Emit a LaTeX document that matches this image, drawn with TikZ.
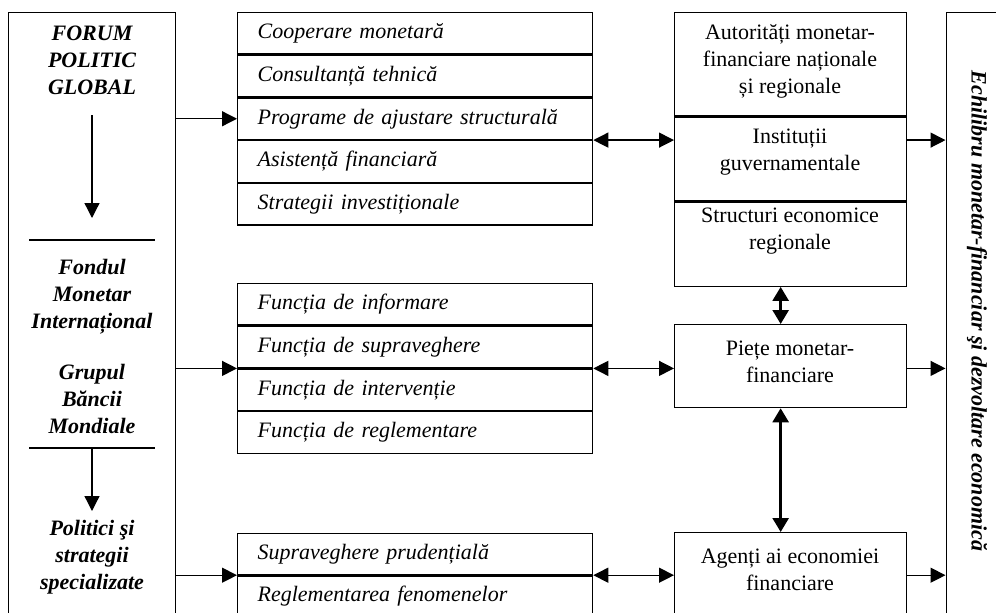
\documentclass[tikz,border=0pt]{standalone}
\usepackage{fontspec}
\setmainfont{Liberation Serif}
\usetikzlibrary{arrows.meta,calc}
\tikzset{
  ln/.style={line width=1.3pt},
  tipa/.style={ln,-{Triangle[length=15pt,width=15pt]}},
  dtipa/.style={ln,{Triangle[length=15pt,width=15pt]}-{Triangle[length=15pt,width=15pt]}},
  thickd/.style={line width=2.6pt,{Triangle[length=14pt,width=16pt]}-{Triangle[length=14pt,width=16pt]}},
  rowbox/.style={draw, ln, anchor=north west, minimum width=355pt, minimum height=41.4pt,
    text width=315pt, inner xsep=20pt, inner ysep=0pt, align=left,
    font=\fontsize{22}{27}\selectfont\itshape},
  frame/.style={draw, ln, anchor=north west, inner sep=0pt},
  rtxt/.style={align=center, inner sep=0pt, font=\fontsize{22}{27}\selectfont},
  ltxt/.style={align=center, inner sep=0pt, font=\fontsize{22}{27}\selectfont\bfseries\itshape},
}
\begin{document}
\begin{tikzpicture}[x=1pt,y=-1pt]
\useasboundingbox (0,0) rectangle (996,613);
\clip (0,0) rectangle (996,613);
% left box
\node[frame, minimum width=167pt, minimum height=640pt] (L) at (8,12) {};
\node[ltxt] (fpg) at (92,60) {FORUM\\POLITIC\\GLOBAL};
\node[ltxt] (fmi) at (92,297) {Fondul\\Monetar\\Internațional};
\node[ltxt] (gbm) at (92,399) {Grupul\\Băncii\\Mondiale};
\node[ltxt] (pss) at (92,557) {Politici şi\\strategii\\specializate};
\coordinate (v1a) at (92,115); \coordinate (v1b) at (92,218);
\coordinate (h1a) at (29,240); \coordinate (h1b) at (155,240);
\coordinate (h2a) at (29,448); \coordinate (h2b) at (155,448);
\coordinate (v2b) at (92,511);
\draw[tipa] (v1a) -- (v1b);
\draw[ln] (h1a) -- (h1b);
\draw[ln] (h2a) -- (h2b);
\draw[tipa] (h2a -| v2b) -- (v2b);
% list 1
\node[rowbox] (a1) at (237,12) {Cooperare monetară};
\node[rowbox] (a2) at (a1.south west) {Consultanță tehnică};
\node[rowbox] (a3) at (a2.south west) {Programe de ajustare structurală};
\node[rowbox] (a4) at (a3.south west) {Asistență financiară};
\node[rowbox] (a5) at (a4.south west) {Strategii investiționale};
% list 2
\node[rowbox] (b1) at (237,283) {Funcția de informare};
\node[rowbox] (b2) at (b1.south west) {Funcția de supraveghere};
\node[rowbox] (b3) at (b2.south west) {Funcția de intervenție};
\node[rowbox] (b4) at (b3.south west) {Funcția de reglementare};
% list 3
\node[rowbox] (c1) at (237,532.5) {Supraveghere prudențială};
\node[rowbox] (c2) at (c1.south west) {Reglementarea fenomenelor};
% right column
\node[frame, minimum width=232pt, minimum height=103pt] (au) at (674,12) {};
\node[frame, minimum width=232pt, minimum height=84pt] (ig) at (au.south west) {};
\node[frame, minimum width=232pt, minimum height=84pt] (se) at (ig.south west) {};
\node[frame, minimum width=232pt, minimum height=83pt] (pm) at (674,324) {};
\node[frame, minimum width=232pt, minimum height=84pt] (ag) at (674,532) {};
\node[rtxt] (au-t) at (790,61) {Autorități monetar-\\financiare naționale\\și regionale};
\node[rtxt] (ig-t) at (790,152) {Instituții\\guvernamentale};
\node[rtxt] (se-t) at (790,231) {Structuri economice\\regionale};
\node[rtxt] (pm-t) at (790,362) {Piețe monetar-\\financiare};
\node[rtxt] (ag-t) at (790,570) {Agenți ai economiei\\financiare};
% right box
\node[frame, minimum width=80pt, minimum height=640pt] (R) at (945.5,12) {};
\node[ltxt, rotate=-90] (R-t) at (977,311) {Echilibru monetar-financiar şi dezvoltare economică};
% arrows group 1
\draw[tipa] (L.east |- a3.west) -- (a3.west);
\draw[dtipa] (a3.south east) -- (a3.south east -| ig.west);
\draw[tipa] (ig.east |- a3.south) -- (R.west |- a3.south);
% group 2
\draw[tipa] (L.east |- b2.south west) -- (b2.south west);
\draw[dtipa] (b2.south east) -- (b2.south east -| pm.west);
\draw[tipa] (pm.east |- b2.south) -- (R.west |- b2.south);
% group 3
\draw[tipa] (L.east |- c1.south west) -- (c1.south west);
\draw[dtipa] (c1.south east) -- (c1.south east -| ag.west);
\draw[tipa] (ag.east |- c1.south) -- (R.west |- c1.south);
% vertical double arrows
\draw[thickd] ([xshift=-10pt]se.south) -- ([xshift=-10pt]pm.north);
\draw[thickd] ([xshift=-10pt]pm.south) -- ([xshift=-10pt]ag.north);
\end{tikzpicture}
\end{document}
